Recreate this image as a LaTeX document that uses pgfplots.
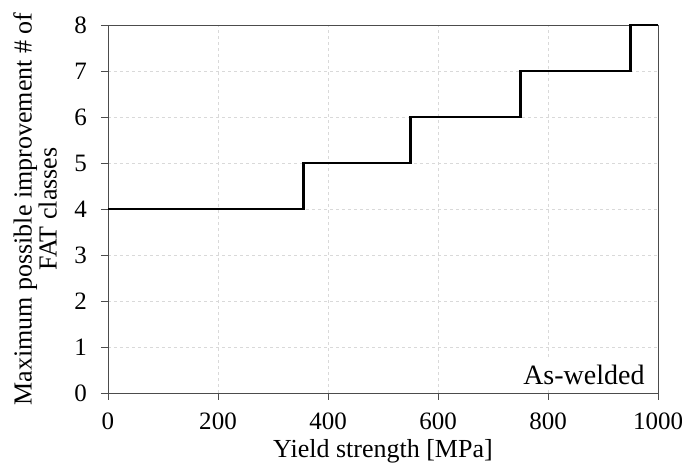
\documentclass[border=0pt]{standalone}
\usepackage{pgfplots}
\pgfplotsset{compat=1.18}
\usepackage{fontspec}
\setmainfont{Liberation Serif}
\begin{document}
\begin{tikzpicture}
\path[use as bounding box] (-108pt,-75pt) rectangle (574pt,393pt);
\begin{axis}[
  at={(0,0)}, anchor=south west,
  scale only axis, width=550pt, height=368pt,
  xmin=0, xmax=1000, ymin=0, ymax=8,
  xtick={0,200,...,1000}, ytick={0,1,...,8},
  tick align=outside, xtick pos=left, ytick pos=left,
  major tick length=7pt,
  axis line style={black!70, line width=0.8pt},
  every tick/.style={black!70, line width=0.8pt},
  grid=major,
  major grid style={dashed, black!15, line width=0.6pt},
  /pgf/number format/assume math mode=true,
  /pgf/number format/1000 sep={},
  ticklabel style={font=\fontsize{25}{27}\selectfont},
  xticklabel style={inner sep=0pt, anchor=base, yshift=-29pt},
  yticklabel style={inner sep=0pt, anchor=east, xshift=-14pt},
  xlabel={Yield strength [MPa]},
  ylabel={Maximum possible improvement \# of\\FAT classes},
  xlabel style={font=\fontsize{26}{27}\selectfont, at={(axis description cs:0.5,-0.174)}, anchor=base, inner sep=0pt},
  ylabel style={font=\fontsize{26}{25}\selectfont, align=center, at={(axis description cs:-0.1727,0.5)}, anchor=north, rotate=0, inner sep=0pt},
  clip=false,
]
\addplot[black, line width=2.8pt, line join=miter, mark=none] coordinates {
  (0,4) (355,4) (355,5) (550,5) (550,6) (750,6) (750,7) (950,7) (950,8) (1000,8)
};
\node[anchor=base east, fill=white, inner sep=5pt, font=\fontsize{28}{30}\selectfont] at (axis description cs:0.985,0.0236) {As-welded};
\end{axis}
\end{tikzpicture}
\end{document}
